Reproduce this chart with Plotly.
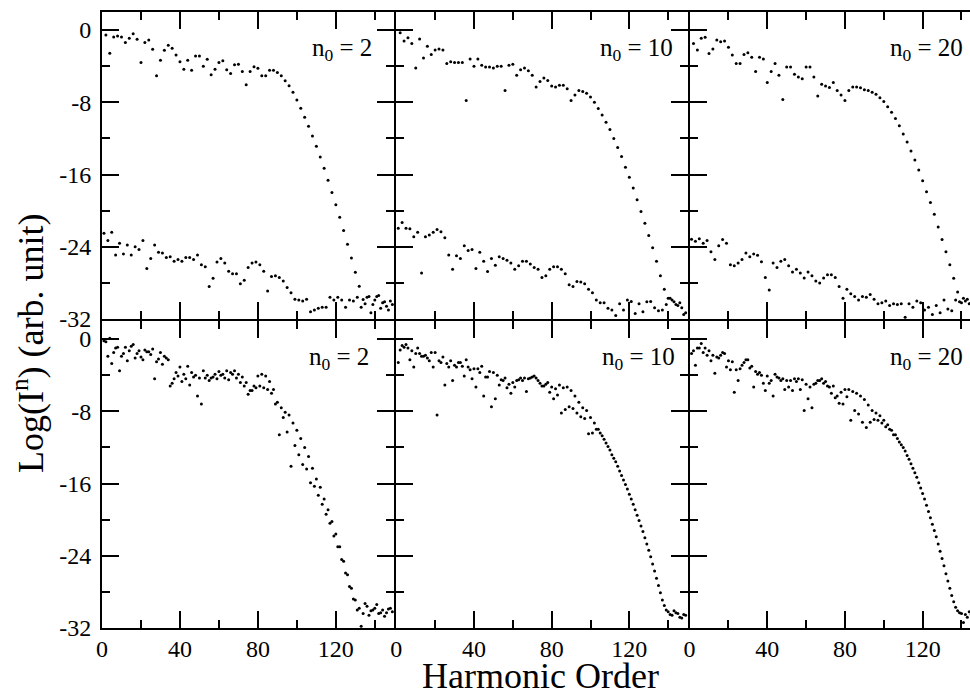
import plotly.graph_objects as go

# ---------------- data (log intensity vs harmonic order) ----------------
# top row: two spectra per panel (upper one at even orders, lower at odd)
tl_upper = [-0.55, -2.57, -0.77, -0.66, -0.77, -1.39, -0.92, -0.40, -1.03, -3.60,
            -1.39, -1.10, -2.13, -5.06, -3.34, -2.24, -1.69, -2.02, -2.75, -3.52,
            -4.33, -3.34, -4.44, -2.86, -2.86, -4.00, -3.23, -4.95, -4.33, -3.60,
            -3.41, -4.40, -4.81, -3.85, -3.78, -4.59, -6.06, -4.59, -4.07, -4.22,
            -5.06, -5.06, -4.44, -4.44, -4.70, -5.06, -5.61, -6.17, -6.90, -7.74,
            -8.66, -9.65, -10.64, -11.74, -12.88, -14.06, -15.30, -16.62, -17.98, -19.34,
            -20.73, -22.20, -23.71, -25.25, -26.83, -28.37, -29.83,
            -29.6, -31.3, -29.9, -29.4, -30.2, -30.6, -30.0]
tl_lower = [-22.5, -23.3, -22.4, -24.9, -23.6, -24.8, -23.8, -24.9, -24.0, -24.3,
            -23.3, -26.4, -25.3, -23.8, -24.6, -24.7, -25.2, -25.1, -25.6, -25.4,
            -25.6, -25.2, -25.2, -25.4, -24.9, -26.0, -26.2, -28.4, -27.5, -25.7,
            -25.3, -25.8, -26.7, -27.0, -27.0, -28.1, -27.7, -26.3, -25.8, -25.7,
            -26.0, -26.7, -28.9, -27.3, -27.2, -27.4, -27.8, -28.5, -29.1, -29.8,
            -29.9, -30.0, -29.8, -31.2, -31.0, -30.8, -30.7, -30.7, -29.6, -29.9,
            -29.6, -29.9, -30.7, -29.9, -30.0, -29.6, -30.7, -30.3, -29.5, -30.4,
            -29.5, -30.8, -30.1, -31.0, -30.4]
tm_upper = [-0.3, -1.2, -0.85, -1.5, -4.2, -1.0, -3.1, -1.8, -2.7, -2.2,
            -2.1, -2.2, -3.7, -3.5, -3.6, -3.6, -3.6, -7.8, -3.2, -4.0,
            -3.2, -3.9, -4.1, -4.1, -4.2, -4.0, -4.0, -6.7, -3.9, -3.8,
            -5.0, -4.4, -4.2, -4.5, -5.0, -6.3, -5.7, -5.3, -5.6, -6.2,
            -6.3, -6.1, -6.1, -6.5, -7.8, -7.2, -6.7, -6.8, -7.0, -7.4,
            -8.0, -8.7, -9.4, -10.2, -11.0, -12.0, -13.0, -14.0, -15.2, -16.3,
            -17.5, -18.8, -20.1, -21.4, -22.75, -24.1, -25.6, -27.2, -28.7, -29.7,
            -29.9, -30.4, -30.2, -31.5]
tm_lower = [-21.95, -21.3, -21.95, -22.0, -22.9, -22.4, -26.9, -22.9, -22.7, -22.4,
            -22.1, -22.35, -23.0, -24.9, -26.5, -25.0, -25.3, -23.9, -24.4, -24.3,
            -26.4, -24.6, -25.6, -26.75, -25.3, -26.05, -25.1, -25.3, -25.5, -25.8,
            -26.5, -26.1, -25.6, -25.6, -25.9, -26.3, -26.5, -27.4, -27.2, -26.5,
            -26.2, -26.2, -26.5, -27.0, -28.2, -28.4, -27.85, -27.9, -28.1, -28.7,
            -29.1, -29.9, -30.2, -30.2, -30.8, -31.0, -31.6, -30.3, -31.0, -29.9,
            -30.05, -31.4, -30.3, -31.2, -30.1, -30.05, -30.75, -31.1, -31.0, -30.4,
            -29.7, -30.1, -30.5, -30.75, -31.3]
tr_upper = [-1.5, -2.2, -0.9, -0.8, -2.6, -2.1, -1.1, -1.3, -1.2, -1.9,
            -2.75, -3.7, -3.7, -2.7, -2.5, -3.0, -4.6, -3.0, -3.2, -5.8,
            -4.6, -3.7, -5.0, -7.7, -4.1, -4.1, -4.9, -5.2, -5.4, -4.1,
            -4.1, -5.2, -7.3, -6.0, -6.2, -6.35, -5.8, -6.7, -7.2, -7.8,
            -6.7, -6.3, -6.3, -6.4, -6.6, -6.7, -6.9, -7.1, -7.5, -7.9,
            -8.5, -9.1, -9.8, -10.6, -11.5, -12.4, -13.4, -14.4, -15.5, -16.7,
            -17.9, -19.1, -20.4, -21.8, -23.2, -24.55, -26.0, -27.5, -29.0, -30.2,
            -30.0, -30.3, -30.6, -30.1]
tr_lower = [-23.16, -23.4, -23.1, -23.6, -23.3, -24.55, -25.4, -23.9, -23.2, -23.6,
            -26.0, -26.1, -25.8, -25.4, -24.7, -25.1, -24.8, -24.95, -25.65, -27.4,
            -28.8, -25.8, -26.3, -25.6, -25.4, -26.1, -26.8, -26.5, -26.9, -27.45,
            -26.8, -27.2, -27.8, -28.0, -27.45, -27.1, -27.1, -27.4, -28.4, -29.7,
            -28.7, -29.2, -29.5, -29.9, -29.5, -29.6, -29.3, -29.8, -30.3, -30.2,
            -30.0, -30.5, -30.3, -30.4, -30.3, -31.8, -30.3, -30.7, -30.0, -30.2,
            -31.0, -30.7, -31.5, -30.5, -31.3, -29.9, -30.9, -31.1, -29.9, -30.1,
            -29.7, -29.8, -30.2, -30.5, -30.0]

# bottom row: two interleaved spectra per panel (even / odd orders)
bl_even = [-0.3, 0.1, -1.5, -0.9, -1.9, -0.9, -1.3, -0.6, -1.6, -2.0,
           -1.2, -1.4, -1.1, -2.5, -1.5, -1.9, -2.3, -4.9, -3.7, -3.1,
           -3.9, -3.0, -3.7, -4.0, -4.3, -3.5, -4.0, -4.3, -3.9, -3.6,
           -3.9, -3.5, -3.7, -3.5, -3.9, -4.2, -4.8, -5.7, -5.2, -4.1,
           -3.9, -4.1, -4.7, -5.6, -7.0, -7.6, -8.1, -8.4, -9.3, -10.1,
           -11.0, -12.0, -13.0, -14.3, -15.5, -16.4, -17.7, -18.9, -20.2, -21.6,
           -23.0, -24.6, -26.1, -27.6, -28.9, -29.8, -30.4, -29.6, -30.1, -29.8,
           -30.4, -30.0, -30.3, -29.8]
bl_odd = [-0.2, -1.9, -2.7, -1.0, -3.5, -1.6, -2.4, -0.8, -2.1, -1.3,
          -2.3, -1.4, -1.7, -4.4, -2.2, -2.8, -2.1, -5.2, -4.4, -4.1,
          -4.7, -4.4, -5.1, -4.2, -6.3, -7.2, -4.3, -4.6, -4.2, -4.4,
          -4.0, -4.3, -4.5, -3.9, -4.3, -4.8, -5.2, -6.1, -5.7, -5.4,
          -5.2, -5.4, -5.6, -6.0, -7.2, -10.6, -8.7, -10.3, -14.1, -11.8,
          -12.8, -13.9, -14.4, -15.9, -16.3, -17.3, -18.3, -19.4, -20.4, -21.8,
          -23.0, -24.4, -25.9, -27.4, -28.8, -30.0, -31.8, -29.3, -30.6, -30.0,
          -29.4, -30.3, -30.7, -29.9, -30.2]
bm_even = [-1.2, -0.9, -1.0, -1.3, -1.6, -1.6, -1.9, -2.1, -1.5, -1.5,
           -2.4, -2.0, -2.7, -2.4, -2.9, -2.6, -3.0, -2.3, -3.4, -3.3,
           -3.3, -3.0, -4.2, -3.6, -3.7, -4.0, -4.5, -4.3, -5.0, -4.8,
           -4.6, -4.3, -4.3, -4.4, -4.2, -4.3, -4.9, -5.2, -4.8, -5.3,
           -5.5, -5.1, -5.4, -5.3, -5.7, -6.3, -7.0, -7.6, -7.9, -8.7,
           -9.3, -10.0, -10.7, -11.5, -12.3, -13.2, -14.1, -15.1, -16.1, -17.2,
           -18.3, -19.5, -20.7, -22.0, -23.4, -24.9, -26.5, -28.1, -29.5, -30.2,
           -30.6, -30.3, -30.8, -30.5]
bm_odd = [-2.6, -0.7, -0.6, -2.3, -3.1, -1.0, -1.9, -1.8, -2.4, -3.1,
          -8.4, -2.6, -5.1, -3.1, -4.6, -3.1, -2.6, -4.1, -3.1, -4.4,
          -5.3, -3.7, -6.3, -4.2, -7.5, -6.6, -5.1, -4.6, -5.4, -6.0,
          -5.3, -4.5, -4.6, -5.8, -4.3, -4.1, -4.6, -5.2, -5.0, -5.9,
          -6.6, -6.2, -8.2, -7.8, -7.5, -7.7, -8.2, -8.6, -8.8, -10.5,
          -10.4, -10.0, -10.4, -11.1, -11.9, -12.8, -13.6, -14.6, -15.6, -16.6,
          -17.7, -18.9, -20.1, -21.3, -22.7, -24.1, -25.7, -27.3, -28.9, -30.0,
          -30.5, -30.1, -30.4, -30.9, -30.6]
br_even = [-1.3, -1.0, -0.5, -1.0, -1.3, -1.8, -2.0, -1.8, -1.6, -2.4,
           -2.5, -3.4, -3.3, -2.6, -2.3, -3.0, -3.6, -3.7, -4.9, -4.1,
           -4.6, -3.9, -4.3, -4.4, -4.6, -4.6, -4.4, -4.4, -4.5, -5.0,
           -5.3, -5.0, -4.6, -4.4, -4.7, -5.3, -5.2, -6.3, -5.9, -5.6,
           -5.6, -5.8, -6.0, -6.3, -6.7, -7.3, -7.9, -8.2, -8.5, -9.0,
           -9.5, -10.1, -10.6, -11.4, -12.0, -12.9, -13.8, -14.8, -15.9, -17.1,
           -18.4, -19.8, -21.2, -22.7, -24.3, -26.0, -27.6, -29.1, -30.1, -30.4,
           -30.5, -30.2, -30.6, -30.4]
br_odd = [-1.6, -2.9, -1.0, -1.5, -1.8, -2.4, -3.8, -2.1, -1.5, -3.1,
          -3.4, -5.9, -4.6, -2.9, -2.3, -3.2, -5.3, -3.9, -4.0, -5.7,
          -4.9, -6.3, -4.2, -4.6, -5.6, -5.3, -5.7, -4.7, -5.6, -7.9,
          -6.6, -7.6, -4.9, -4.6, -4.9, -5.2, -6.0, -6.5, -7.1, -7.2,
          -6.4, -9.0, -7.9, -8.3, -9.2, -9.8, -9.2, -8.9, -9.0, -9.3,
          -9.7, -10.0, -10.6, -11.0, -11.7, -12.4, -13.3, -14.3, -15.3, -16.5,
          -17.7, -19.1, -20.5, -21.9, -23.5, -25.1, -26.8, -28.4, -29.7, -30.3,
          -31.4, -30.8, -30.5, -30.7, -30.9]

panel_series = [
    [tl_upper, tl_lower], [tm_upper, tm_lower], [tr_upper, tr_lower],
    [bl_even, bl_odd], [bm_even, bm_odd], [br_even, br_odd],
]
panel_labels = ["2", "10", "20", "2", "10", "20"]
x_ticks = [0, 40, 80, 120]
x_ticktext = ["0", "40", "80", "120"]
y_ticks = [0, -8, -16, -24, -32]
y_ticktext = ["0", "-8", "-16", "-24", "-32"]


def orders(vals, first):
    return [first + 2 * i for i in range(len(vals))]


# ---------------- layout geometry ----------------
W, H = 970, 695
ML, MR, MT, MB = 102, 0, 12, 67
plot_w = W - ML - MR
plot_h = H - MT - MB
col_px = 293.3
# leave 2px between neighbouring domains so the two 2px frame lines coincide
c1 = [0, col_px - 1]
c2 = [col_px + 1, 2 * col_px - 1]
c3 = [2 * col_px + 1, plot_w]
x_domains = [[a / plot_w for a in c] for c in (c1, c2, c3)]
units_per_px = 150 / (c2[1] - c2[0])
x_ranges = [[0, 150], [0, 150], [0, (c3[1] - c3[0]) * units_per_px]]
row_px = plot_h / 2
y_domains = [[(plot_h - (row_px - 1)) / plot_h, 1.0], [0.0, (plot_h - (row_px + 1)) / plot_h]]

FONT = "Liberation Serif, Times New Roman, serif"
fig = go.Figure()

for p in range(6):
    row, col = divmod(p, 3)
    n = p + 1
    xa = "x" if n == 1 else f"x{n}"
    ya = "y" if n == 1 else f"y{n}"
    s_even, s_odd = panel_series[p]
    fig.add_trace(go.Scatter(x=orders(s_even, 2), y=s_even, mode="markers",
                             marker=dict(color="black", size=3),
                             xaxis=xa, yaxis=ya, showlegend=False))
    fig.add_trace(go.Scatter(x=orders(s_odd, 1), y=s_odd, mode="markers",
                             marker=dict(color="black", size=3),
                             xaxis=xa, yaxis=ya, showlegend=False))

    xkey = "xaxis" if n == 1 else f"xaxis{n}"
    ykey = "yaxis" if n == 1 else f"yaxis{n}"
    fig.layout[xkey] = dict(
        domain=x_domains[col], range=x_ranges[col], anchor=ya,
        showline=True, linewidth=2, linecolor="black", mirror="ticks",
        ticks="inside", ticklen=17, tickwidth=2, tickcolor="black",
        tickvals=x_ticks, ticktext=x_ticktext, showticklabels=(row == 1),
        ticklabelstandoff=-2,
        minor=dict(dtick=20, tick0=0, ticks="inside", ticklen=8,
                   tickwidth=2, tickcolor="black"),
        showgrid=False, zeroline=False,
        tickfont=dict(family=FONT, size=24, color="black"),
    )
    fig.layout[ykey] = dict(
        domain=y_domains[row], range=[-32, 2], anchor=xa,
        showline=True, linewidth=2, linecolor="black",
        mirror=("ticks" if col < 2 else False),
        ticks="inside", ticklen=17, tickwidth=2, tickcolor="black",
        tickvals=y_ticks, ticktext=y_ticktext, showticklabels=(col == 0),
        ticklabelstandoff=4,
        minor=dict(dtick=4, tick0=0, ticks="inside", ticklen=8,
                   tickwidth=2, tickcolor="black"),
        showgrid=False, zeroline=False,
        tickfont=dict(family=FONT, size=24, color="black"),
    )

    # panel label
    xs = [-20, -13, -5, -23, -11, -5][p]
    fig.add_annotation(text=f"n<sub>0</sub> = {panel_labels[p]}",
                       xref=f"{xa} domain", yref=f"{ya} domain",
                       x=1, y=1, xanchor="right", yanchor="top",
                       xshift=xs, yshift=-20, showarrow=False,
                       font=dict(family=FONT, size=25, color="black"))

# right-hand ticks of the right column (the frame itself lies beyond the page)
for n, base in [(7, "y3"), (8, "y6")]:
    fig.layout[f"yaxis{n}"] = dict(
        overlaying=base, anchor="x3", side="right", range=[-32, 2],
        showline=False, ticks="inside", ticklen=8, tickwidth=2,
        tickcolor="black", tickvals=y_ticks, showticklabels=False,
        showgrid=False, zeroline=False,
    )

fig.add_annotation(text="Harmonic Order", xref="paper", yref="paper",
                   x=(540 - ML) / plot_w, y=-(676 - (H - MB)) / plot_h,
                   xanchor="center", yanchor="middle", showarrow=False,
                   font=dict(family=FONT, size=36, color="black"))
fig.add_annotation(text="Log(I<sup>n</sup>) (arb. unit)", xref="paper", yref="paper",
                   x=(28 - ML) / plot_w, y=((H - MB) - 343) / plot_h,
                   xanchor="center", yanchor="middle", textangle=-90, showarrow=False,
                   font=dict(family=FONT, size=36, color="black"))

fig.update_layout(width=W, height=H, margin=dict(l=ML, r=MR, t=MT, b=MB),
                  paper_bgcolor="white", plot_bgcolor="white", showlegend=False)

fig.write_html("out.html")
